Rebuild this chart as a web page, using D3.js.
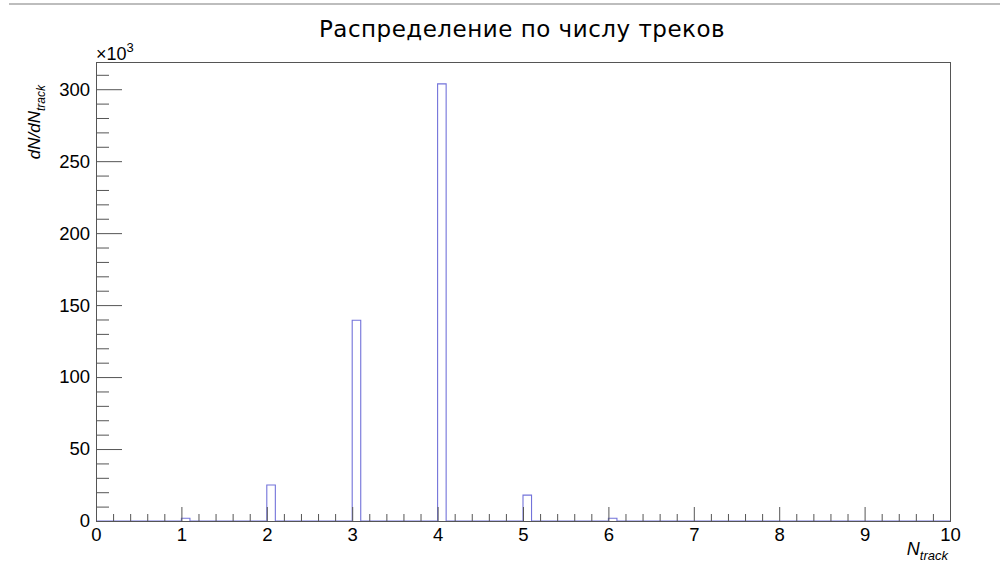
<!DOCTYPE html>
<html>
<head>
<meta charset="utf-8">
<script src="https://cdn.jsdelivr.net/npm/d3@7"></script>
<style>
  body { margin: 0; background: #fff; }
  svg { display: block; }
</style>
</head>
<body>
<svg id="hist"></svg>
<script>
const width = 1000;
const height = 576;
const frame = { left: 96, right: 950, top: 62, bottom: 521 };
const numFont = "'Liberation Sans', Arial, sans-serif";

// histogram: 100 bins of width 0.1 on [0, 10]
const xMin = 0;
const xMax = 10;
const nBins = 100;
// only nonzero bins (lower edge of the bin) and their contents
const binStarts = [1, 2, 3, 4, 5, 6];
const binCounts = [1900, 25000, 139500, 303700, 18000, 1900];
const yMax = 318900;

const xMajor = [0, 1, 2, 3, 4, 5, 6, 7, 8, 9, 10];
const yMajor = [0, 50000, 100000, 150000, 200000, 250000, 300000];

const titleText = "Распределение по числу треков";

const svg = d3.select("#hist")
    .attr("width", width)
    .attr("height", height);

// thin gray line on top of the canvas
svg.append("line")
    .attr("x1", 9).attr("x2", width)
    .attr("y1", 4).attr("y2", 4)
    .attr("stroke", "#bdbdbd")
    .attr("stroke-width", 2);

const x = d3.scaleLinear().domain([xMin, xMax]).range([frame.left, frame.right]);
const y = d3.scaleLinear().domain([0, yMax]).range([frame.bottom, frame.top]);

// full bin contents
const binWidth = (xMax - xMin) / nBins;
const bins = d3.range(nBins).map(i => ({ x0: xMin + i * binWidth, n: 0 }));
binStarts.forEach((s, j) => {
    const i = Math.round((s - xMin) / binWidth);
    bins[i].n = binCounts[j];
});

// step outline like ROOT's default histogram drawing
const pts = bins.map(b => [b.x0, b.n]);
pts.push([xMax, bins[nBins - 1].n]);
const stepLine = d3.line()
    .x(d => x(d[0]))
    .y(d => y(d[1]))
    .curve(d3.curveStepAfter);

svg.append("clipPath").attr("id", "clip")
    .append("rect")
    .attr("x", frame.left).attr("y", frame.top)
    .attr("width", frame.right - frame.left)
    .attr("height", frame.bottom - frame.top);

svg.append("path")
    .datum([[xMin, 0]].concat(pts))
    .attr("clip-path", "url(#clip)")
    .attr("fill", "none")
    .attr("stroke", "#7373da")
    .attr("stroke-width", 1.1)
    .attr("d", stepLine);

// x axis (ticks pointing up into the frame)
const xMinor = d3.range(0, 50).map(i => i * 0.2).filter(v => Math.abs(v - Math.round(v)) > 1e-6);
const xAxisG = svg.append("g").attr("transform", `translate(0,${frame.bottom})`);
xAxisG.call(d3.axisBottom(x).tickValues(xMajor).tickSizeInner(-14).tickSizeOuter(0).tickPadding(4).tickFormat(d3.format("d")));
const xMinorG = svg.append("g").attr("transform", `translate(0,${frame.bottom})`);
xMinorG.call(d3.axisBottom(x).tickValues(xMinor).tickSize(-7).tickFormat(""));

// y axis
const yMinor = d3.range(0, 32).map(i => i * 10000).filter(v => v % 50000 !== 0);
const yAxisG = svg.append("g").attr("transform", `translate(${frame.left},0)`);
yAxisG.call(d3.axisLeft(y).tickValues(yMajor).tickSizeInner(-26).tickSizeOuter(0).tickPadding(6).tickFormat(d => d / 1000));
const yMinorG = svg.append("g").attr("transform", `translate(${frame.left},0)`);
yMinorG.call(d3.axisLeft(y).tickValues(yMinor).tickSize(-13).tickFormat(""));

svg.selectAll(".domain").remove();
svg.selectAll("g").attr("font-size", null).attr("font-family", null);
svg.selectAll(".tick line").attr("stroke", "#555");
svg.selectAll(".tick text")
    .attr("fill", "#000")
    .style("font-family", numFont)
    .style("font-size", "18.5px");
xAxisG.selectAll(".tick text").attr("dy", "0.85em");

// frame
svg.append("rect")
    .attr("x", frame.left + 0.5).attr("y", frame.top + 0.5)
    .attr("width", frame.right - frame.left)
    .attr("height", frame.bottom - frame.top)
    .attr("fill", "none")
    .attr("stroke", "#555");

// exponent label
const expo = svg.append("text")
    .attr("x", frame.left)
    .attr("y", 60)
    .attr("font-family", "Liberation Sans")
    .attr("font-size", 18);
expo.append("tspan").attr("font-size", 18).text("×10");
expo.append("tspan").attr("dy", -8).attr("font-size", 13).text("3");

// title
svg.append("text")
    .attr("x", 522).attr("y", 37)
    .attr("text-anchor", "middle")
    .style("font-family", "'DejaVu Sans', sans-serif")
    .style("font-size", "23px")
    .style("letter-spacing", "0.5px")
    .text(titleText);

// x axis title
const xt = svg.append("text")
    .attr("x", frame.right - 2).attr("y", 555)
    .attr("text-anchor", "end")
    .style("font-family", numFont)
    .style("font-style", "italic")
    .style("font-size", "18px");
xt.append("tspan").text("N");
xt.append("tspan").attr("dy", 5).style("font-size", "13px").text("track");

// y axis title
const yt = svg.append("text")
    .attr("transform", `translate(40,85) rotate(-90)`)
    .attr("text-anchor", "end")
    .style("font-family", numFont)
    .style("font-style", "italic")
    .style("font-size", "17px");
yt.append("tspan").text("dN/dN");
yt.append("tspan").attr("dy", 5).style("font-size", "12px").text("track");
</script>
</body>
</html>
